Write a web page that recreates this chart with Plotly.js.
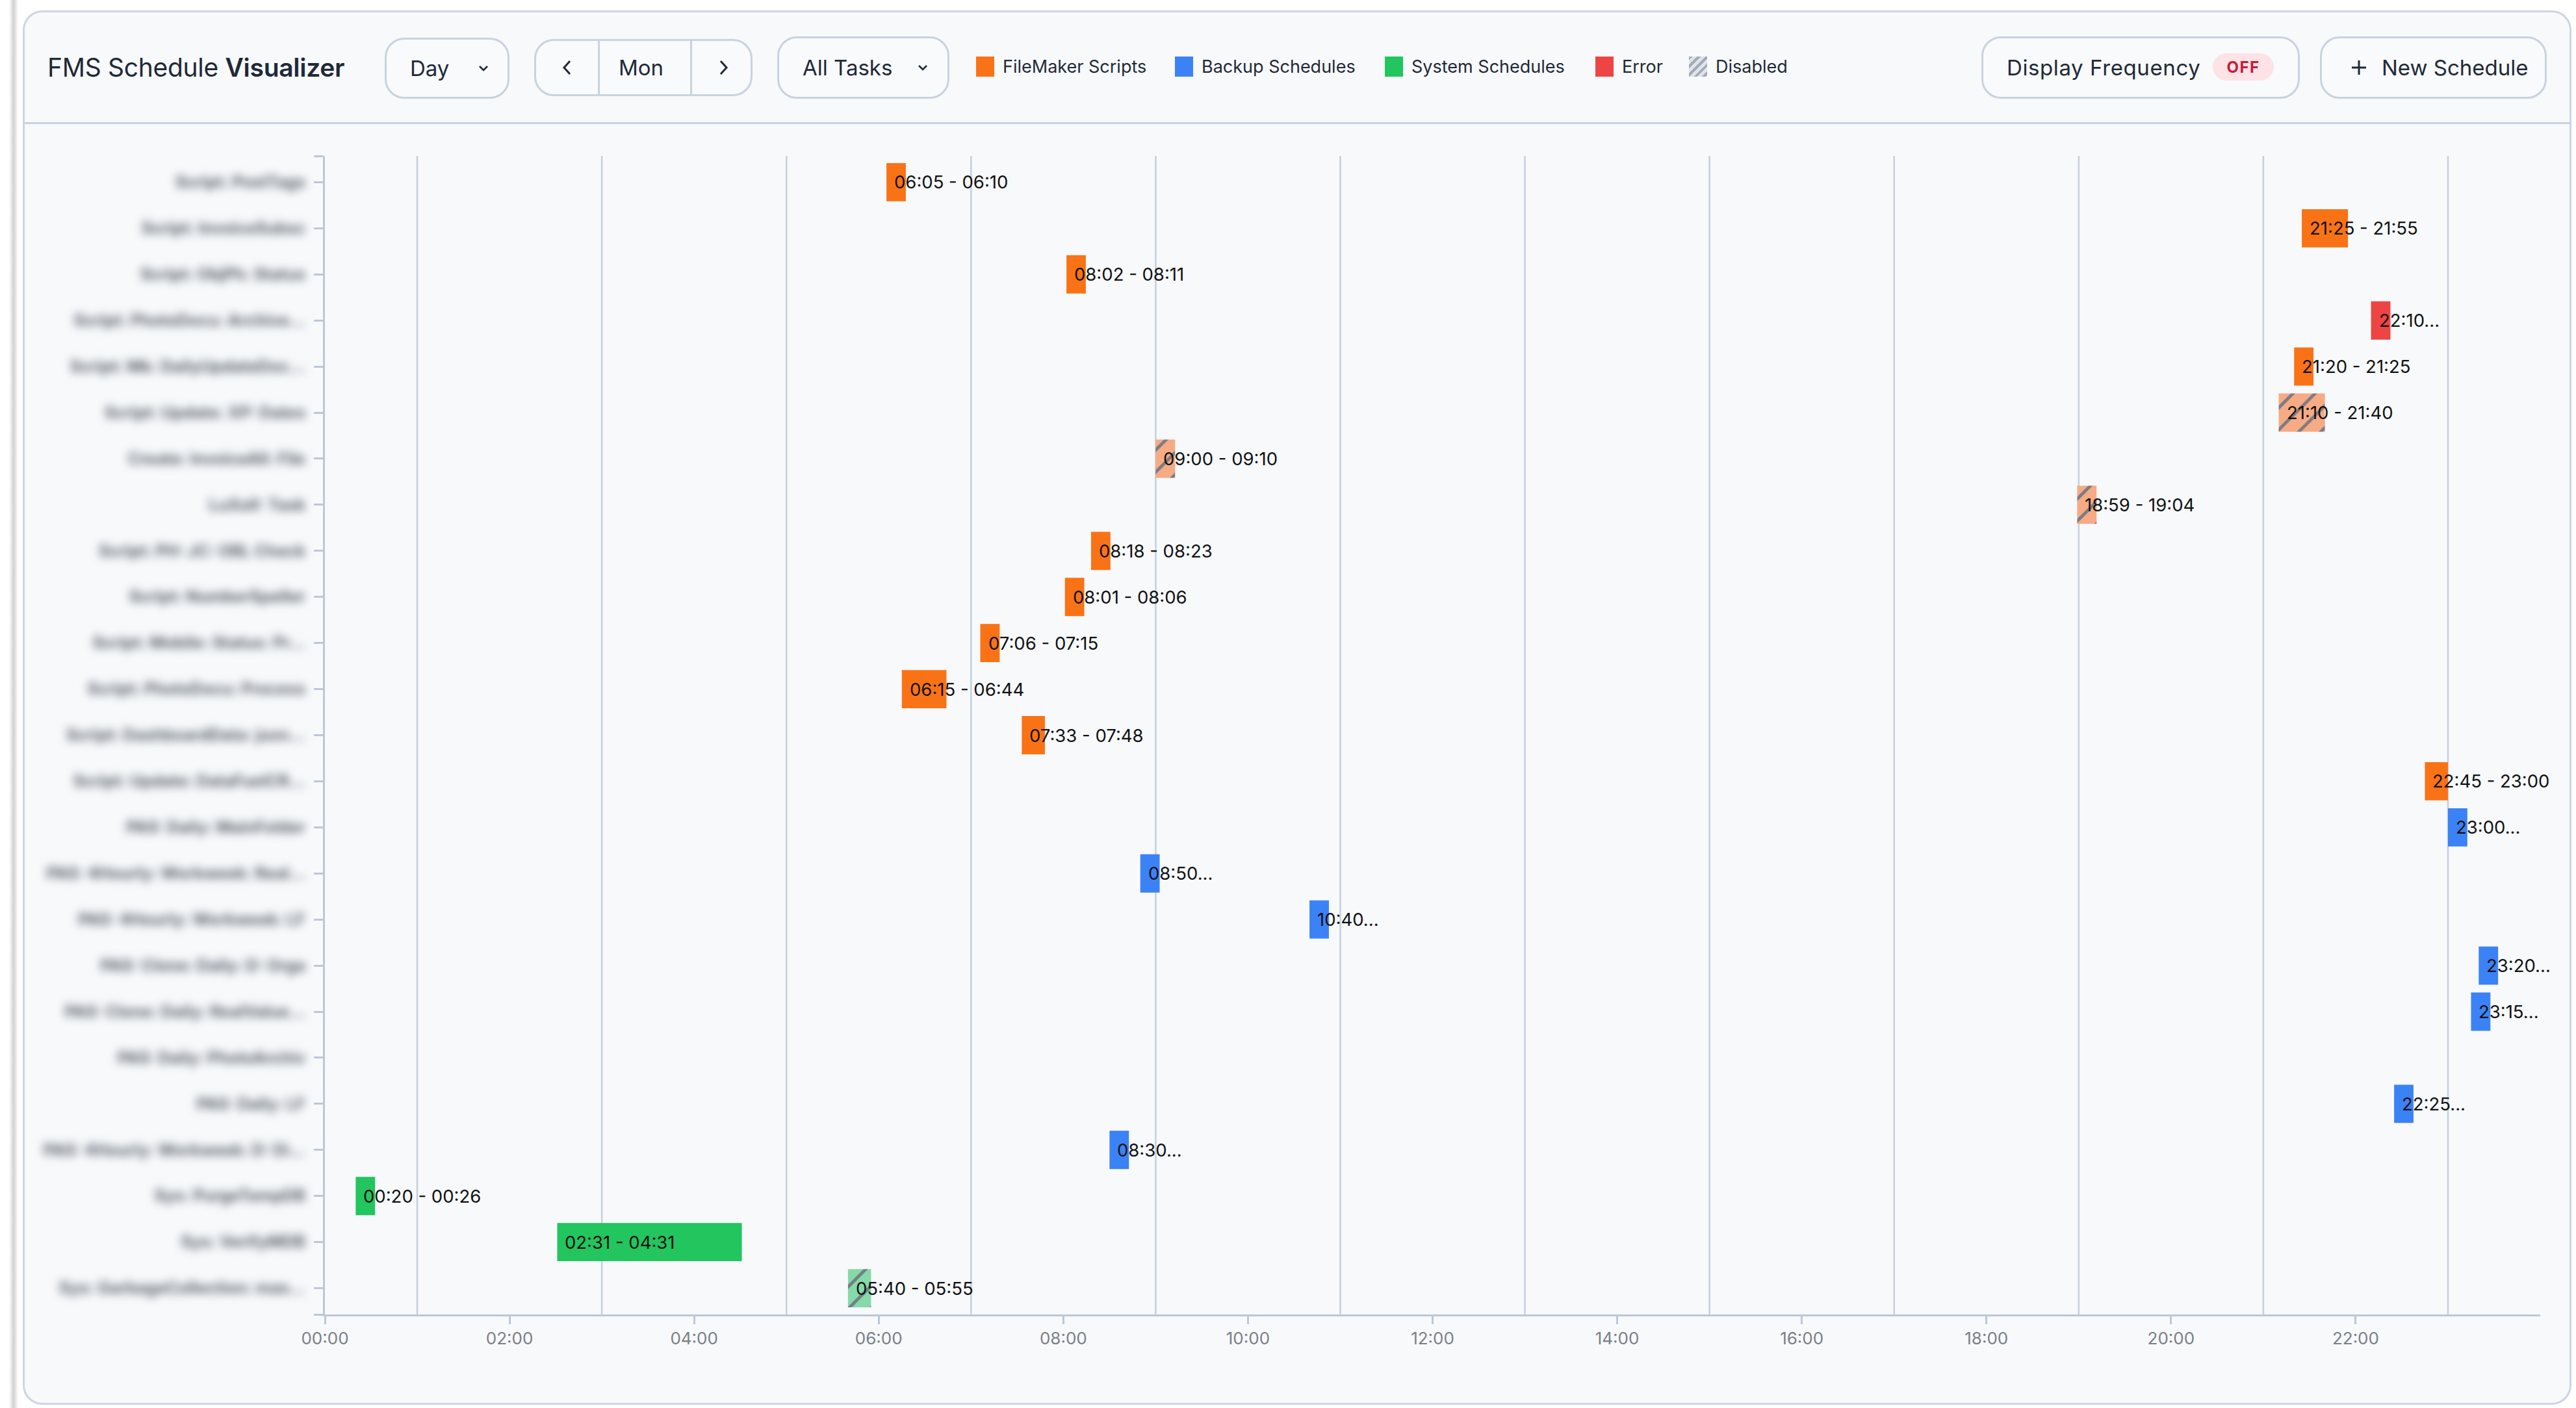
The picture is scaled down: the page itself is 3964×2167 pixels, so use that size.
<!DOCTYPE html>
<html>
<head>
<meta charset="utf-8">
<script src="https://cdn.plot.ly/plotly-3.0.1.min.js"></script>
<style>
html,body{margin:0;padding:0;width:3964px;height:2167px;background:#ffffff;overflow:hidden;font-family:Inter,"Noto Sans",sans-serif;}
#shadow{position:absolute;left:14px;top:0;width:14px;height:2167px;background:linear-gradient(to right,rgba(0,0,0,0),rgba(0,0,0,0.18),rgba(0,0,0,0));}
#panel{position:absolute;left:35px;top:16px;width:3922px;height:2146px;background:#f7f9fb;border:3px solid #cdd6e2;border-radius:30px;box-sizing:border-box;}
#sep{position:absolute;left:36px;top:188px;width:3920px;height:3px;background:#c9d3df;}
#chart{position:absolute;left:0;top:0;width:3964px;height:2167px;}
.title{position:absolute;left:73px;top:80px;font-size:39px;line-height:48px;color:#1f2937;letter-spacing:-0.3px;}
.title b{font-weight:600;}
.title span{font-weight:400;}
.btn{position:absolute;border:3px solid #c9d3df;border-radius:30px;box-sizing:border-box;background:#f8fafc;color:#1f2937;font-size:33px;}
.btn .t{position:absolute;top:50%;transform:translateY(-50%);white-space:nowrap;}
.vdiv{position:absolute;top:0;bottom:0;width:3px;background:#c9d3df;}
.leg{position:absolute;top:85px;height:34px;display:flex;align-items:center;font-size:27px;color:#1f2937;white-space:nowrap;}
.sw{width:28px;height:31px;margin-right:13px;}
.pill{position:absolute;left:3405px;top:82px;width:94px;height:42px;border-radius:21px;background:#fde3e6;color:#c8193a;font-weight:700;font-size:24px;letter-spacing:1.5px;display:flex;align-items:center;justify-content:center;}
#chart .ytick text{filter:blur(7px);}
</style>
</head>
<body>
<div id="shadow"></div>
<div id="panel"></div>
<div id="sep"></div>
<div id="chart"></div>

<div class="title"><span>FMS Schedule </span><b>Visualizer</b></div>

<div class="btn" style="left:592px;top:58px;width:192px;height:94px;">
  <div class="t" style="left:36px;">Day</div>
  <svg class="t" style="left:140px;" width="18" height="12" viewBox="0 0 18 12"><polyline points="3,3 9,9 15,3" fill="none" stroke="#1f2937" stroke-width="2.6"/></svg>
</div>

<div class="btn" style="left:822px;top:60px;width:336px;height:88px;">
  <svg class="t" style="left:40px;" width="16" height="26" viewBox="0 0 16 26"><polyline points="12,3 3,13 12,23" fill="none" stroke="#1f2937" stroke-width="3"/></svg>
  <div class="vdiv" style="left:95px;"></div>
  <div class="t" style="left:127px;">Mon</div>
  <div class="vdiv" style="left:237px;"></div>
  <svg class="t" style="left:280px;" width="16" height="26" viewBox="0 0 16 26"><polyline points="4,3 13,13 4,23" fill="none" stroke="#1f2937" stroke-width="3"/></svg>
</div>

<div class="btn" style="left:1196px;top:56px;width:265px;height:96px;">
  <div class="t" style="left:36px;">All Tasks</div>
  <svg class="t" style="left:212px;" width="18" height="12" viewBox="0 0 18 12"><polyline points="3,3 9,9 15,3" fill="none" stroke="#1f2937" stroke-width="2.6"/></svg>
</div>

<div class="leg" style="left:1502px;"><div class="sw" style="background:#f97316;"></div>FileMaker Scripts</div>
<div class="leg" style="left:1808px;"><div class="sw" style="background:#3b82f6;"></div>Backup Schedules</div>
<div class="leg" style="left:2131px;"><div class="sw" style="background:#22c55e;"></div>System Schedules</div>
<div class="leg" style="left:2455px;"><div class="sw" style="background:#ef4444;"></div>Error</div>
<div class="leg" style="left:2599px;"><div class="sw" style="background:repeating-linear-gradient(135deg,#a3abb9 0 4px,#dfe3ea 4px 9px);"></div>Disabled</div>

<div class="btn" style="left:3049px;top:56px;width:490px;height:96px;">
  <div class="t" style="left:36px;letter-spacing:0.6px;">Display Frequency</div>
</div>
<div class="pill">OFF</div>

<div class="btn" style="left:3570px;top:56px;width:349px;height:96px;">
  <svg class="t" style="left:44px;" width="26" height="26" viewBox="0 0 26 26"><path d="M13 2 V24 M2 13 H24" stroke="#1f2937" stroke-width="3"/></svg>
  <div class="t" style="left:92px;">New Schedule</div>
</div>

<script>
// ---- Data ----
const TASKS = [
  "Script: PostTags",
  "Script: InvoiceSubsc",
  "Script: ObjPh: Status",
  "Script: PhotoDocu: Archive...",
  "Script: Mk: DailyUpdateDoc...",
  "Script: Update: XP: Dates",
  "Create: InvoiceAll: File",
  "LuXoII: Task",
  "Script: PH: JC: OBL Check",
  "Script: NumberSpeller",
  "Script: Mobile: Status: Pr...",
  "Script: PhotoDocu: Process",
  "Script: DashboardData: json...",
  "Script: Update: DataFuelCR...",
  "PAS: Daily: MainFolder",
  "PAS: 4Hourly: Workweek: Real...",
  "PAS: 4Hourly: Workweek: LF",
  "PAS: Clone: Daily: D: Orga",
  "PAS: Clone: Daily: RealValue...",
  "PAS: Daily: PhotoArchiv",
  "PAS: Daily: LF",
  "PAS: 4Hourly: Workweek: D: Di...",
  "Sys: PurgeTempDB",
  "Sys: VerifyMDB",
  "Sys: GarbageCollection: mas..."
];

const BAR_TASKS = [
  "Script: PostTags", "Script: InvoiceSubsc", "Script: ObjPh: Status",
  "Script: PhotoDocu: Archive...", "Script: Mk: DailyUpdateDoc...", "Script: Update: XP: Dates",
  "Create: InvoiceAll: File", "LuXoII: Task", "Script: PH: JC: OBL Check",
  "Script: NumberSpeller", "Script: Mobile: Status: Pr...", "Script: PhotoDocu: Process",
  "Script: DashboardData: json...", "Script: Update: DataFuelCR...", "PAS: Daily: MainFolder",
  "PAS: 4Hourly: Workweek: Real...", "PAS: 4Hourly: Workweek: LF", "PAS: Clone: Daily: D: Orga",
  "PAS: Clone: Daily: RealValue...", "PAS: Daily: LF", "PAS: 4Hourly: Workweek: D: Di...",
  "Sys: PurgeTempDB", "Sys: VerifyMDB", "Sys: GarbageCollection: mas..."
];
const STARTS = [
  "06:05", "21:25", "08:02",
  "22:10", "21:20", "21:10",
  "09:00", "18:59", "08:18",
  "08:01", "07:06", "06:15",
  "07:33", "22:45", "23:00",
  "08:50", "10:40", "23:20",
  "23:15", "22:25", "08:30",
  "00:20", "02:31", "05:40"
];
const ENDS = [
  "06:10", "21:55", "08:11",
  null, "21:25", "21:40",
  "09:10", "19:04", "08:23",
  "08:06", "07:15", "06:44",
  "07:48", "23:00", null,
  null, null, null,
  null, null, null,
  "00:26", "04:31", "05:55"
];
const KINDS = [
  "FileMaker Scripts", "FileMaker Scripts", "FileMaker Scripts",
  "Error", "FileMaker Scripts", "FileMaker Scripts",
  "FileMaker Scripts", "FileMaker Scripts", "FileMaker Scripts",
  "FileMaker Scripts", "FileMaker Scripts", "FileMaker Scripts",
  "FileMaker Scripts", "FileMaker Scripts", "Backup Schedules",
  "Backup Schedules", "Backup Schedules", "Backup Schedules",
  "Backup Schedules", "Backup Schedules", "Backup Schedules",
  "System Schedules", "System Schedules", "System Schedules"
];
const DISABLED = [
  false, false, false,
  false, false, true,
  true, true, false,
  false, false, false,
  false, false, false,
  false, false, false,
  false, false, false,
  false, false, true
];

const X_TICK_HOURS = [0, 2, 4, 6, 8, 10, 12, 14, 16, 18, 20, 22];
const X_TICK_TEXT = ["00:00","02:00","04:00","06:00","08:00","10:00","12:00","14:00","16:00","18:00","20:00","22:00"];
const GRID_HOURS = [1, 3, 5, 7, 9, 11, 13, 15, 17, 19, 21, 23];

// ---- Styles ----
const COLORS = {
  "FileMaker Scripts": "#f97316",
  "Backup Schedules": "#3b82f6",
  "System Schedules": "#22c55e",
  "Error": "#ef4444"
};
const DISABLED_COLORS = {
  "FileMaker Scripts": "#f6ab84",
  "Backup Schedules": "#9cc0f8",
  "System Schedules": "#86d9a8",
  "Error": "#f3a0a0"
};
const MIN_VISIBLE_H = 0.21;   // shortest drawn bar, in hours
const Y_PAD = 0.57;           // space above first / below last row, in rows
const AXIS_COLOR = "#bcc8d8";
const GRID_COLOR = "#c5cfdd";

const toH = s => { const [h, m] = s.split(":").map(Number); return h + m / 60; };
const rowOf = name => TASKS.indexOf(name);

// group bars into traces by kind + disabled
const groups = {};
BAR_TASKS.forEach((t, i) => {
  const key = KINDS[i] + (DISABLED[i] ? "|disabled" : "");
  if (!groups[key]) groups[key] = {kind: KINDS[i], disabled: DISABLED[i], y: [], base: [], x: []};
  const s = toH(STARTS[i]);
  const dur = ENDS[i] ? toH(ENDS[i]) - s : 0;
  groups[key].y.push(rowOf(t));
  groups[key].base.push(s);
  groups[key].x.push(Math.max(dur, MIN_VISIBLE_H));
});

const traces = Object.values(groups).map(g => {
  const marker = {color: g.disabled ? DISABLED_COLORS[g.kind] : COLORS[g.kind], line: {width: 0}};
  if (g.disabled) {
    marker.pattern = {shape: "/", fgcolor: "#6b7280", fgopacity: 0.85, bgcolor: DISABLED_COLORS[g.kind], size: 24, solidity: 0.2};
  }
  return {
    type: "bar", orientation: "h", name: g.kind + (g.disabled ? " (disabled)" : ""),
    y: g.y, base: g.base, x: g.x, width: 0.83, marker: marker,
    hoverinfo: "skip", showlegend: false
  };
});

const annotations = BAR_TASKS.map((t, i) => ({
  x: toH(STARTS[i]), y: rowOf(t), xref: "x", yref: "y",
  text: ENDS[i] ? STARTS[i] + " - " + ENDS[i] : STARTS[i] + "...",
  showarrow: false, xanchor: "left", yanchor: "middle", xshift: 10,
  font: {family: "Inter, sans-serif", size: 27.5, color: "#111111"}
}));

const shapes = GRID_HOURS.map(h => ({
  type: "line", xref: "x", yref: "paper", x0: h, x1: h, y0: 0, y1: 1,
  line: {color: GRID_COLOR, width: 2.5}, layer: "below"
}));

const yTickVals = [-Y_PAD].concat(TASKS.map((_, i) => i), [TASKS.length - 1 + Y_PAD]);
const yTickText = [""].concat(TASKS, [""]);

const layout = {
  width: 3964, height: 2167,
  margin: {l: 500, r: 55, t: 240, b: 144},
  paper_bgcolor: "rgba(0,0,0,0)", plot_bgcolor: "rgba(0,0,0,0)",
  font: {family: "Inter, sans-serif", size: 26, color: "#7b7f87"},
  barmode: "overlay",
  showlegend: false,
  xaxis: {
    range: [0, 24], tickvals: X_TICK_HOURS, ticktext: X_TICK_TEXT,
    showgrid: false, zeroline: false, showline: true, linecolor: AXIS_COLOR, linewidth: 3,
    ticks: "outside", ticklen: 12, tickwidth: 3, tickcolor: AXIS_COLOR,
    tickfont: {size: 26, color: "#7b7f87"}, fixedrange: true
  },
  yaxis: {
    range: [TASKS.length - 1 + Y_PAD, -Y_PAD], tickvals: yTickVals, ticktext: yTickText,
    showgrid: false, zeroline: false, showline: true, linecolor: AXIS_COLOR, linewidth: 3,
    ticks: "outside", ticklen: 14, tickwidth: 3, tickcolor: AXIS_COLOR,
    tickfont: {size: 25, color: "#5a6069", weight: 700}, ticklabelstandoff: 8, fixedrange: true
  },
  shapes: shapes,
  annotations: annotations
};

Plotly.newPlot("chart", traces, layout, {displayModeBar: false, staticPlot: true});
</script>
</body>
</html>
